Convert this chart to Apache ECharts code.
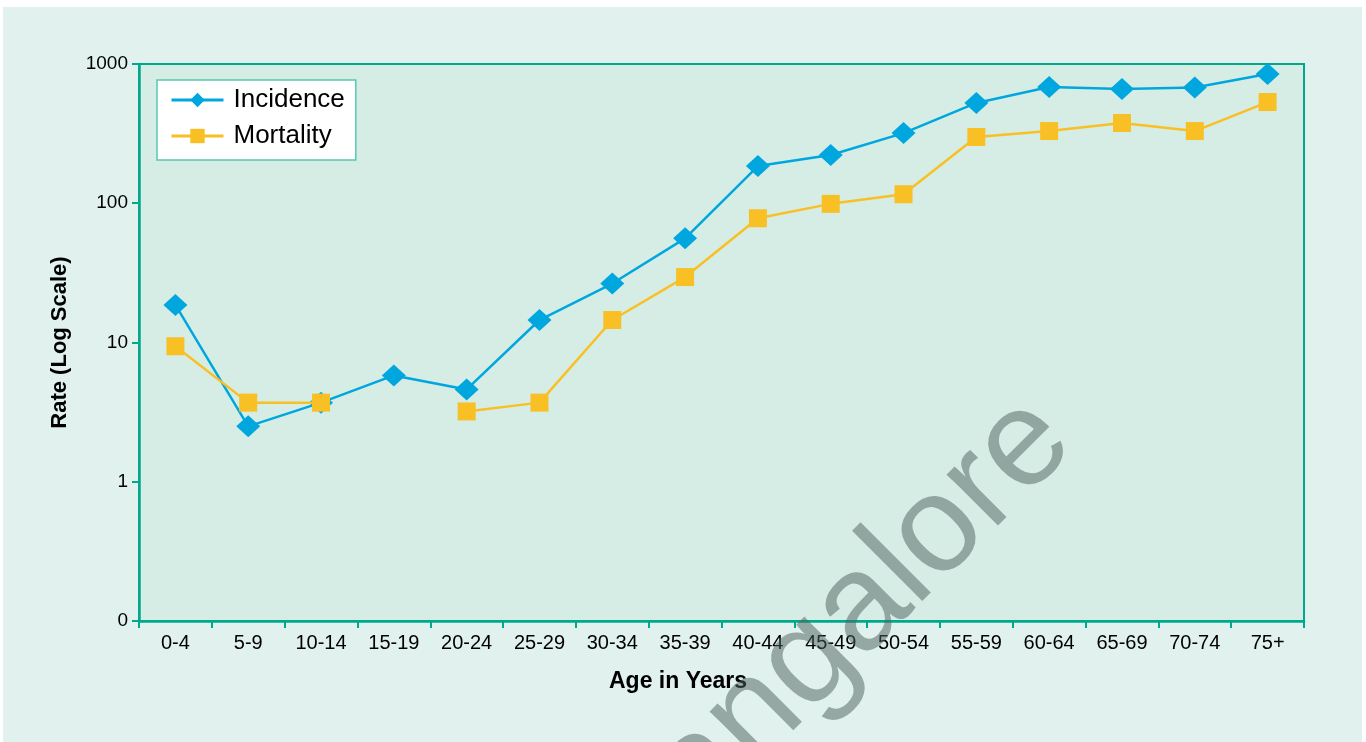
<!DOCTYPE html>
<html>
<head>
<meta charset="utf-8">
<script src="https://cdn.jsdelivr.net/npm/echarts@6/dist/echarts.min.js"></script>
<style>
  html, body { margin: 0; padding: 0; background: #ffffff; }
  #chart { width: 1366px; height: 742px; }
</style>
</head>
<body>
<div id="chart"></div>
<script>
const categories = ['0-4','5-9','10-14','15-19','20-24','25-29','30-34','35-39','40-44','45-49','50-54','55-59','60-64','65-69','70-74','75+'];
const incidence = [18.6, 2.5, 3.7, 5.8, 4.6, 14.5, 26.5, 56, 185, 222, 319, 525, 684, 661, 678, 848];
const mortality = [9.4, 3.7, 3.7, null, 3.2, 3.7, 14.5, 29.5, 78, 99, 116, 299, 330, 377, 330, 533];
const yTickLabels = ['0', '1', '10', '100', '1000'];
const seriesNames = ['Incidence', 'Mortality'];
const xTitle = 'Age in Years';
const yTitle = 'Rate (Log Scale)';
const watermark = 'Bangalore';

const FONT = "'Liberation Sans', Arial, Helvetica, sans-serif";
const TEAL = '#00a88c';

const chart = echarts.init(document.getElementById('chart'), null, { renderer: 'canvas' });
chart.setOption({
  animation: false,
  textStyle: { fontFamily: FONT },
  graphic: [
    { type: 'rect', z: -10, silent: true, shape: { x: 3, y: 7, width: 1359, height: 735 }, style: { fill: '#e1f1ed' } },
    { type: 'text', z: 100, silent: true, x: 678, y: 682,
      style: { text: xTitle, font: "bold 23px " + FONT, fill: '#000', align: 'center', verticalAlign: 'middle' } },
    { type: 'text', z: 100, silent: true, x: 609, y: 861, rotation: Math.PI / 4,
      style: { text: watermark, font: "137px " + FONT, fill: 'rgba(75,95,90,0.5)', align: 'left', verticalAlign: 'middle' } }
  ],
  grid: {
    left: 139, right: 62, top: 64, bottom: 121,
    show: true, backgroundColor: '#d6ede6', borderColor: TEAL, borderWidth: 2
  },
  legend: {
    left: 157, top: 80,
    orient: 'vertical',
    backgroundColor: '#ffffff',
    borderColor: '#5cc6b2', borderWidth: 1.5,
    padding: [7, 11, 11, 13],
    itemGap: 10,
    itemWidth: 52, itemHeight: 18,
    lineStyle: { width: 3 },
    textStyle: { fontSize: 26, color: '#000', fontFamily: FONT, padding: [0, 0, 0, 5] },
    data: seriesNames
  },
  xAxis: {
    type: 'category',
    data: categories,
    boundaryGap: true,
    axisLine: { lineStyle: { color: TEAL, width: 2.5 } },
    axisTick: { show: true, length: 7, lineStyle: { color: TEAL, width: 2 }, alignWithLabel: false },
    axisLabel: { color: '#000', fontSize: 20, margin: 12, interval: 0, fontFamily: FONT },
    splitLine: { show: false }
  },
  yAxis: {
    type: 'log',
    logBase: 10,
    min: 0.1, max: 1000,
    name: yTitle,
    nameLocation: 'middle',
    nameGap: 68,
    nameRotate: 90,
    nameTextStyle: { fontSize: 22, fontWeight: 'bold', color: '#000', fontFamily: FONT },
    axisLine: { show: true, lineStyle: { color: TEAL, width: 2.5 } },
    axisTick: { show: true, length: 7, lineStyle: { color: TEAL, width: 2 } },
    axisLabel: {
      color: '#000', fontSize: 19, margin: 11, fontFamily: FONT,
      formatter: function (v) { return yTickLabels[Math.round(Math.log10(v)) + 1]; }
    },
    splitLine: { show: false },
    minorTick: { show: false }
  },
  series: [
    {
      name: seriesNames[0], type: 'line', data: incidence,
      symbol: 'diamond', symbolSize: [24, 22],
      itemStyle: { color: '#00a7df' },
      lineStyle: { color: '#00a7df', width: 2.5 },
      connectNulls: false, z: 2
    },
    {
      name: seriesNames[1], type: 'line', data: mortality,
      symbol: 'rect', symbolSize: 18,
      itemStyle: { color: '#f8c024' },
      lineStyle: { color: '#f8c024', width: 2.5 },
      connectNulls: false, z: 3
    }
  ]
});
</script>
</body>
</html>
